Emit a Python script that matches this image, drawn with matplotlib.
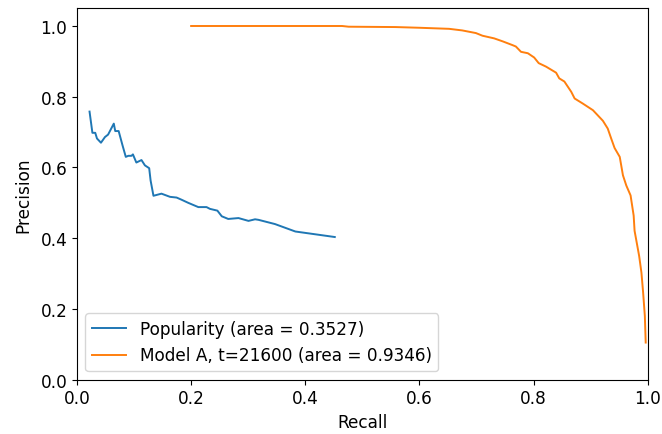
import matplotlib
matplotlib.use("Agg")
import matplotlib.pyplot as plt

# Popularity baseline PR curve
pop_recall = [0.022, 0.027, 0.032, 0.035, 0.042, 0.049, 0.0545, 0.0645, 0.067, 0.073,
              0.0797, 0.0855, 0.090, 0.0955, 0.098, 0.104, 0.113, 0.119, 0.1265, 0.129,
              0.134, 0.148, 0.163, 0.1745, 0.183, 0.195, 0.2126, 0.227, 0.233, 0.246,
              0.2537, 0.265, 0.283, 0.3005, 0.312, 0.318, 0.347, 0.3826, 0.4517]
pop_precision = [0.758, 0.698, 0.698, 0.682, 0.670, 0.686, 0.693, 0.724, 0.703, 0.703,
                 0.663, 0.630, 0.633, 0.633, 0.637, 0.614, 0.621, 0.606, 0.598, 0.563,
                 0.520, 0.526, 0.517, 0.515, 0.509, 0.500, 0.488, 0.488, 0.483, 0.478,
                 0.462, 0.4545, 0.457, 0.449, 0.4535, 0.452, 0.440, 0.419, 0.4034]

# Model A PR curve
model_recall = [0.200, 0.4645, 0.476, 0.558, 0.600, 0.652, 0.675, 0.699, 0.7105, 0.731,
                0.746, 0.763, 0.769, 0.778, 0.790, 0.801, 0.809, 0.822, 0.8395, 0.845,
                0.854, 0.866, 0.872, 0.886, 0.904, 0.9215, 0.930, 0.936, 0.942, 0.951,
                0.9566, 0.9625, 0.970, 0.9754, 0.977, 0.985, 0.989, 0.992, 0.995, 0.9965]
model_precision = [1.000, 1.000, 0.998, 0.997, 0.995, 0.992, 0.9875, 0.980, 0.9725, 0.965,
                   0.9565, 0.946, 0.942, 0.927, 0.923, 0.911, 0.895, 0.885, 0.868, 0.852,
                   0.843, 0.814, 0.795, 0.781, 0.762, 0.732, 0.710, 0.682, 0.655, 0.630,
                   0.578, 0.549, 0.521, 0.464, 0.421, 0.350, 0.303, 0.246, 0.180, 0.105]

labels = ["Popularity (area = 0.3527)", "Model A, t=21600 (area = 0.9346)"]

plt.rcParams["font.size"] = 12.2

fig = plt.figure(figsize=(6.62, 4.35), dpi=100)
ax = fig.add_axes([0.1163, 0.1248, 0.8621, 0.8538])

ax.plot(pop_recall, pop_precision, color="#1f77b4", lw=1.4, label=labels[0])
ax.plot(model_recall, model_precision, color="#ff7f0e", lw=1.4, label=labels[1])

ax.set_xlim(0.0, 1.0)
ax.set_ylim(0.0, 1.05)
ax.set_xlabel("Recall")
ax.set_ylabel("Precision", labelpad=6)
ax.legend(loc="lower left")

fig.savefig("out.png", dpi=100)
